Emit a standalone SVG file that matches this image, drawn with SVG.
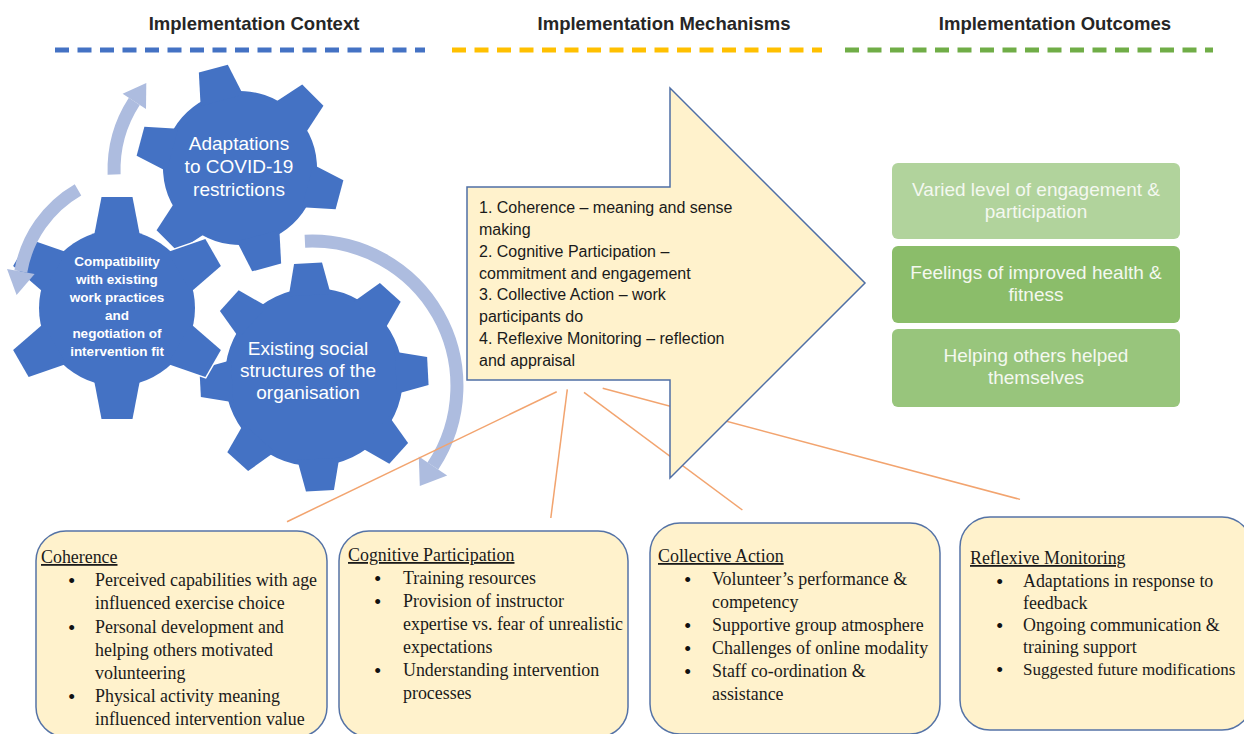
<svg xmlns="http://www.w3.org/2000/svg" width="1244" height="734" viewBox="0 0 1244 734">
<style>
.hdr{font-family:"Liberation Sans",Arial,sans-serif;font-weight:bold;font-size:18.5px;fill:#262626;text-anchor:middle}
.dash{stroke-width:5;stroke-dasharray:14 8.5;fill:none}
.gear-out{fill:#fff;stroke:#fff;stroke-width:3}
.gear{fill:#4472c4}
.gt{font-family:"Liberation Sans",Arial,sans-serif;fill:#fff;text-anchor:middle;font-size:19px}
.gt2{font-family:"Liberation Sans",Arial,sans-serif;fill:#fff;text-anchor:middle;font-size:13.5px;font-weight:bold}
.arc{fill:none;stroke:#adbcdf;stroke-width:13}
.arh{fill:#adbcdf}
.conn{stroke:#f2a46f;stroke-width:1.5;fill:none}
.mech{fill:#fff2cc;stroke:#4f6fa5;stroke-width:1.5}
.mt{font-family:"Liberation Sans",Arial,sans-serif;font-size:16px;fill:#1a1a1a}
.ot{font-family:"Liberation Sans",Arial,sans-serif;font-size:19px;fill:#f4f8f0;text-anchor:middle}
.box{fill:#fff2cc;stroke:#5573a6;stroke-width:1.5}
.bt{font-family:"Liberation Serif","Times New Roman",serif;font-size:17.9px;fill:#1a1a1a}
.bu{font-family:"Liberation Serif","Times New Roman",serif;font-size:21px;fill:#111}
.bh{text-decoration:underline}
</style>
<defs>
<polygon id="t1" points="-22,-70 22,-70 15,-103 -15,-103"/>
<g id="gear1"><circle r="77"/><use href="#t1"/><use href="#t1" transform="rotate(60)"/><use href="#t1" transform="rotate(120)"/><use href="#t1" transform="rotate(180)"/><use href="#t1" transform="rotate(240)"/><use href="#t1" transform="rotate(300)"/></g>
<polygon id="t2" points="-23,-72 23,-72 15.5,-111 -15.5,-111"/>
<g id="gear2"><circle r="78"/><use href="#t2"/><use href="#t2" transform="rotate(60)"/><use href="#t2" transform="rotate(120)"/><use href="#t2" transform="rotate(180)"/><use href="#t2" transform="rotate(240)"/><use href="#t2" transform="rotate(300)"/></g>
<polygon id="t3" points="-21,-82 21,-82 14,-114 -14,-114"/>
<g id="gear3"><circle r="89"/><use href="#t3"/><use href="#t3" transform="rotate(45)"/><use href="#t3" transform="rotate(90)"/><use href="#t3" transform="rotate(135)"/><use href="#t3" transform="rotate(180)"/><use href="#t3" transform="rotate(225)"/><use href="#t3" transform="rotate(270)"/><use href="#t3" transform="rotate(315)"/></g>
</defs>
<rect width="1244" height="734" fill="#fff"/>

<g id="headers">
<text class="hdr" x="254" y="30">Implementation Context</text>
<text class="hdr" x="664" y="30">Implementation Mechanisms</text>
<text class="hdr" x="1055" y="30">Implementation Outcomes</text>
<line class="dash" x1="55" y1="50" x2="425" y2="50" stroke="#4472c4"/>
<line class="dash" x1="452" y1="50" x2="822" y2="50" stroke="#ffc000"/>
<line class="dash" x1="845" y1="50" x2="1213" y2="50" stroke="#70ad47"/>
</g>

<g id="gear-adaptations">
<use href="#gear1" class="gear-out" transform="translate(240,168) rotate(-15)"/>
<use href="#gear1" class="gear" transform="translate(240,168) rotate(-15)"/>
<text class="gt" x="239" y="150">Adaptations</text>
<text class="gt" x="239" y="173">to COVID-19</text>
<text class="gt" x="239" y="196">restrictions</text>
</g>

<g id="gear-social">
<use href="#gear3" class="gear-out" transform="translate(314,377) rotate(-3)"/>
<use href="#gear3" class="gear" transform="translate(314,377) rotate(-3)"/>
<text class="gt" x="308" y="355">Existing social</text>
<text class="gt" x="308" y="377">structures of the</text>
<text class="gt" x="308" y="399">organisation</text>
</g>

<g id="gear-compatibility">
<use href="#gear2" class="gear-out" transform="translate(117,308)"/>
<use href="#gear2" class="gear" transform="translate(117,308)"/>
<text class="gt2" x="117" y="266">Compatibility</text>
<text class="gt2" x="117" y="284">with existing</text>
<text class="gt2" x="117" y="302">work practices</text>
<text class="gt2" x="117" y="320">and</text>
<text class="gt2" x="117" y="338">negotiation of</text>
<text class="gt2" x="117" y="356">intervention fit</text>
</g>

<g id="cycle-arrows">
<path class="arc" d="M114.1,174.4 A126,126 0 0 1 134.3,101.4"/>
<polygon class="arh" points="122.6,93.8 146.0,109.0 146.3,82.9"/>
<path class="arc" d="M78,189.8 A118,118 0 0 0 20.8,271.5"/>
<polygon class="arh" points="7.0,269.1 34.6,273.9 16.6,295.1"/>
<path class="arc" d="M304.9,241.2 A145,145 0 0 1 432.9,466.0"/>
<polygon class="arh" points="418.8,456.6 447.2,475.4 419.8,486"/>
</g>

<g id="connectors">
<line class="conn" x1="556.7" y1="391.7" x2="287" y2="521.7"/>
<line class="conn" x1="567.3" y1="389.3" x2="550.8" y2="518"/>
<line class="conn" x1="584" y1="392.3" x2="742.4" y2="510"/>
<line class="conn" x1="602.7" y1="388.3" x2="1020" y2="499.4"/>
</g>

<g id="mechanisms-arrow">
<polygon class="mech" points="467,187 670,187 670,88 865,283 670,478 670,380 467,380"/>
<text class="mt" x="479" y="213">1. Coherence – meaning and sense</text>
<text class="mt" x="479" y="235">making</text>
<text class="mt" x="479" y="257">2. Cognitive Participation –</text>
<text class="mt" x="479" y="279">commitment and engagement</text>
<text class="mt" x="479" y="300">3. Collective Action – work</text>
<text class="mt" x="479" y="322">participants do</text>
<text class="mt" x="479" y="344">4. Reflexive Monitoring – reflection</text>
<text class="mt" x="479" y="366">and appraisal</text>
</g>

<g id="outcome-engagement">
<rect x="892" y="163" width="288" height="76" rx="6" fill="#b1d39c"/>
<text class="ot" x="1036" y="196">Varied level of engagement &amp;</text>
<text class="ot" x="1036" y="218">participation</text>
</g>
<g id="outcome-health">
<rect x="892" y="246" width="288" height="77" rx="6" fill="#8bbd6a"/>
<text class="ot" x="1036" y="279">Feelings of improved health &amp;</text>
<text class="ot" x="1036" y="301">fitness</text>
</g>
<g id="outcome-helping">
<rect x="892" y="329" width="288" height="78" rx="6" fill="#98c57c"/>
<text class="ot" x="1036" y="362">Helping others helped</text>
<text class="ot" x="1036" y="384">themselves</text>
</g>

<g id="box-coherence">
<rect class="box" x="36" y="531" width="291" height="206" rx="30"/>
<text class="bt bh" x="41" y="563">Coherence</text>
<text class="bu" x="68" y="588">•</text><text class="bt" x="95" y="586">Perceived capabilities with age</text>
<text class="bt" x="95" y="609">influenced exercise choice</text>
<text class="bu" x="68" y="635">•</text><text class="bt" x="95" y="633">Personal development and</text>
<text class="bt" x="95" y="656">helping others motivated</text>
<text class="bt" x="95" y="679">volunteering</text>
<text class="bu" x="68" y="704">•</text><text class="bt" x="95" y="702">Physical activity meaning</text>
<text class="bt" x="95" y="725">influenced intervention value</text>
</g>

<g id="box-cognitive">
<rect class="box" x="339" y="531" width="289" height="206" rx="30"/>
<text class="bt bh" x="348" y="561">Cognitive Participation</text>
<text class="bu" x="374" y="586">•</text><text class="bt" x="403" y="584">Training resources</text>
<text class="bu" x="374" y="609">•</text><text class="bt" x="403" y="607">Provision of instructor</text>
<text class="bt" x="403" y="630">expertise vs. fear of unrealistic</text>
<text class="bt" x="403" y="653">expectations</text>
<text class="bu" x="374" y="678">•</text><text class="bt" x="403" y="676">Understanding intervention</text>
<text class="bt" x="403" y="699">processes</text>
</g>

<g id="box-collective">
<rect class="box" x="650" y="523" width="290" height="211" rx="30"/>
<text class="bt bh" x="658" y="562">Collective Action</text>
<text class="bu" x="684" y="587">•</text><text class="bt" x="712" y="585">Volunteer’s performance &amp;</text>
<text class="bt" x="712" y="608">competency</text>
<text class="bu" x="684" y="633">•</text><text class="bt" x="712" y="631">Supportive group atmosphere</text>
<text class="bu" x="684" y="656">•</text><text class="bt" x="712" y="654">Challenges of online modality</text>
<text class="bu" x="684" y="679">•</text><text class="bt" x="712" y="677">Staff co-ordination &amp;</text>
<text class="bt" x="712" y="700">assistance</text>
</g>

<g id="box-reflexive">
<rect class="box" x="960" y="517" width="292" height="213" rx="30"/>
<text class="bt bh" x="970" y="564">Reflexive Monitoring</text>
<text class="bu" x="996" y="589">•</text><text class="bt" x="1023" y="587">Adaptations in response to</text>
<text class="bt" x="1023" y="609">feedback</text>
<text class="bu" x="996" y="633">•</text><text class="bt" x="1023" y="631">Ongoing communication &amp;</text>
<text class="bt" x="1023" y="653">training support</text>
<text class="bu" x="996" y="677">•</text><text class="bt" x="1023" y="675" style="font-size:17px">Suggested future modifications</text>
</g>
</svg>
